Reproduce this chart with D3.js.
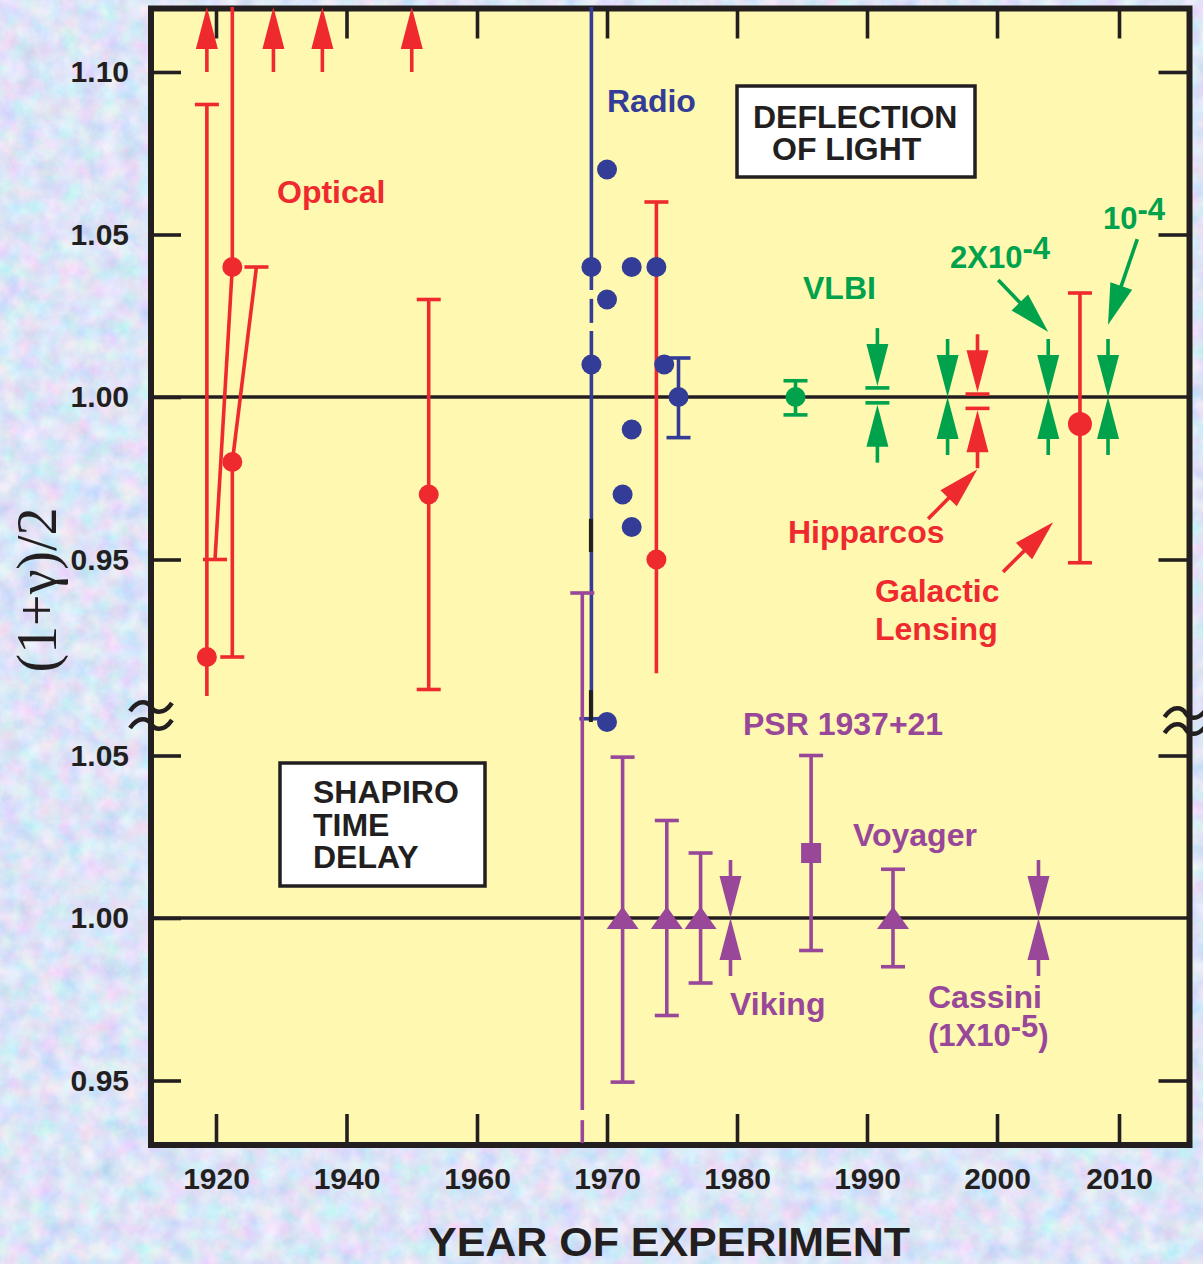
<!DOCTYPE html>
<html><head><meta charset="utf-8">
<script src="https://cdn.jsdelivr.net/npm/d3@7"></script>
<style>
html,body{margin:0;padding:0;background:#b8cbee;}
svg{display:block;}
</style></head><body>
<svg id="c" width="1203" height="1264"></svg>
<script>
// ================= DATA =================
const xTickYears = [1920, 1940, 1960, 1970, 1980, 1990, 2000, 2010];
const upperTicks = [0.95, 1.00, 1.05, 1.10];
const lowerTicks = [0.95, 1.00, 1.05];

// Deflection of light: optical (red)
const opticalDots = [
  {year: 1918.6, value: 0.92},
  {year: 1922.5, value: 1.04},
  {year: 1922.5, value: 0.98},
  {year: 1952.6, value: 0.97},
  {year: 1973.8, value: 0.95}
];
const opticalBars = [
  {year: 1918.6, lo: 0.908, hi: 1.09, capLo: false, capHi: true},
  {year: 1922.5, lo: 1.04, hi: 1.12, capLo: false, capHi: false},
  {year: 1922.5, lo: 0.92, hi: 0.98, capLo: true, capHi: false},
  {year: 1952.6, lo: 0.91, hi: 1.03, capLo: true, capHi: true},
  {year: 1973.8, lo: 0.915, hi: 1.06, capLo: false, capHi: true}
];
const opticalSlants = [
  {year: 1922.5, value: 1.04, year2: 1919.85, value2: 0.95},
  {year: 1922.5, value: 0.98, year2: 1926.2, value2: 1.04}
];
const opticalOffscale = [1918.6, 1928.8, 1936.3, 1950.0];   // values above 1.10
const offscaleFrom = 1.10, offscaleTo = 1.12;

// Deflection of light: radio (blue)
const radioDots = [
  {year: 1968.8, value: 1.04}, {year: 1968.8, value: 1.01},
  {year: 1970.0, value: 1.07}, {year: 1970.0, value: 1.03},
  {year: 1971.9, value: 1.04}, {year: 1973.8, value: 1.04},
  {year: 1974.4, value: 1.01}, {year: 1975.5, value: 1.00},
  {year: 1971.9, value: 0.99}, {year: 1971.2, value: 0.97},
  {year: 1971.9, value: 0.96}, {year: 1970.0, value: 0.90}
];
const radioBars = [
  {year: 1968.8, lo: 0.901, hi: 1.12, capLo: true, capHi: false,
   gaps: [[1.0329, 1.0302], [1.0228, 1.0203]]},
  {year: 1975.5, lo: 0.9875, hi: 1.012, capLo: true, capHi: true}
];
const radioBlackMarks = [{year: 1968.8, lo: 0.9523, hi: 0.9625}, {year: 1968.8, lo: 0.900, hi: 0.9098}];

// VLBI (green)
const vlbiPoints = [{year: 1984.5, value: 1.00, lo: 0.9945, hi: 1.005}];
const vlbiBrackets = [{year: 1990.8, lo: 0.9982, hi: 1.0028}];
const vlbiLimits = [
  {year: 1990.8, lo: 0.9982, hi: 1.0028},
  {year: 1996.2, lo: 1.00, hi: 1.00},
  {year: 2004.2, lo: 1.00, hi: 1.00},
  {year: 2009.1, lo: 1.00, hi: 1.00}
];
// Hipparcos (red)
const hipparcos = [{year: 1998.5, lo: 0.9965, hi: 1.0009}];
// Galactic lensing (red)
const lensing = [{year: 2006.8, value: 0.9917, lo: 0.949, hi: 1.032}];

// Shapiro time delay (purple, lower panel)
const shapiroBars = [
  {year: 1968.1, lo: 0.9308, hi: 1.10, capLo: false, capHi: true, gaps: [[0.9409, 0.9378]]},
  {year: 1971.2, lo: 0.9495, hi: 1.0495, capLo: true, capHi: true},
  {year: 1974.6, lo: 0.970, hi: 1.030, capLo: true, capHi: true},
  {year: 1977.2, lo: 0.980, hi: 1.020, capLo: true, capHi: true},
  {year: 1985.7, lo: 0.990, hi: 1.050, capLo: true, capHi: true},
  {year: 1992.0, lo: 0.985, hi: 1.015, capLo: true, capHi: true}
];
const shapiroTriangles = [
  {year: 1971.2, value: 1.00}, {year: 1974.6, value: 1.00},
  {year: 1977.2, value: 1.00}, {year: 1992.0, value: 1.00}
];
const shapiroSquares = [{year: 1985.7, value: 1.02}];
const shapiroLimits = [{year: 1979.5, lo: 1.00, hi: 1.00}, {year: 2003.4, lo: 1.00, hi: 1.00}];

// annotation pointers (upper panel, data coordinates)
const pointers = [
  {from: [2000.1, 1.036], to: [2004.2, 1.020], color: "green"},
  {from: [2011.5, 1.0486], to: [2009.1, 1.0222], color: "green"},
  {from: [1994.7, 0.9625], to: [1998.5, 0.9778], color: "red"},
  {from: [2000.5, 0.9462], to: [2004.6, 0.9615], color: "red"}
];

// ================= LAYOUT / STYLE =================
const W = 1203, H = 1264;
const C = {red: "#ee2a2f", blue: "#333c96", green: "#00a24c", purple: "#984799",
           ink: "#231f20", yellow: "#fff8b1"};
const FONT = '"Liberation Sans", Arial, Helvetica, sans-serif';
const frame = {left: 151, right: 1189.5, top: 8.5, bottom: 1145};
const SW = 3.6, CAP = 12, DOT = 10;

const x = d3.scaleLinear().domain([1920, 1960, 2000, 2010]).range([216, 477, 997, 1119]);
const yU = d3.scaleLinear().domain([0.95, 1.10]).range([559.5, 72]);
const yL = d3.scaleLinear().domain([0.95, 1.05]).range([1080.5, 755.5]);

const svg = d3.select("#c");
const defs = svg.append("defs");
const f = defs.append("filter").attr("id", "tex").attr("x", 0).attr("y", 0)
  .attr("width", W).attr("height", H).attr("filterUnits", "userSpaceOnUse");
f.append("feTurbulence").attr("type", "fractalNoise").attr("baseFrequency", "0.05")
  .attr("numOctaves", 4).attr("seed", 7);
f.append("feColorMatrix").attr("type", "matrix").attr("values",
  "0.6 0 0 0 0.42  0 0.4 0 0 0.58  0 0 0.22 0 0.82  0 0 0 0 1");

svg.append("rect").attr("width", W).attr("height", H).attr("fill", "#b8cbee");
svg.append("rect").attr("width", W).attr("height", H).attr("filter", "url(#tex)");

// plot area
svg.append("rect").attr("x", frame.left).attr("y", frame.top)
  .attr("width", frame.right - frame.left).attr("height", frame.bottom - frame.top)
  .attr("fill", C.yellow);

// reference lines at 1.00
[yU, yL].forEach(s => svg.append("line")
  .attr("x1", frame.left).attr("x2", frame.right).attr("y1", s(1)).attr("y2", s(1))
  .attr("stroke", C.ink).attr("stroke-width", SW));

function styleAxis(g, size) {
  g.select(".domain").remove();
  g.selectAll(".tick line").attr("stroke", C.ink).attr("stroke-width", SW);
  g.selectAll(".tick text").attr("fill", C.ink)
    .style("font-family", FONT).style("font-weight", "bold").style("font-size", size + "px");
}
const fmt2 = d3.format(".2f");
styleAxis(svg.append("g").attr("transform", `translate(${frame.left},0)`)
  .call(d3.axisLeft(yU).tickValues(upperTicks).tickSize(-30).tickPadding(22).tickFormat(fmt2)), 30);
styleAxis(svg.append("g").attr("transform", `translate(${frame.left},0)`)
  .call(d3.axisLeft(yL).tickValues(lowerTicks).tickSize(-30).tickPadding(22).tickFormat(fmt2)), 30);
styleAxis(svg.append("g").attr("transform", `translate(${frame.right},0)`)
  .call(d3.axisRight(yU).tickValues(upperTicks.filter(d => d !== 1)).tickSize(-31).tickFormat("")), 30);
styleAxis(svg.append("g").attr("transform", `translate(${frame.right},0)`)
  .call(d3.axisRight(yL).tickValues(lowerTicks.filter(d => d !== 1)).tickSize(-31).tickFormat("")), 30);
styleAxis(svg.append("g").attr("transform", `translate(0,${frame.top})`)
  .call(d3.axisTop(x).tickValues(xTickYears).tickSize(-30).tickFormat("")), 30);
styleAxis(svg.append("g").attr("transform", `translate(0,${frame.bottom})`)
  .call(d3.axisBottom(x).tickValues(xTickYears).tickSize(-31).tickPadding(23).tickFormat(d3.format("d"))), 30);

// frame
svg.append("rect").attr("x", frame.left).attr("y", frame.top)
  .attr("width", frame.right - frame.left).attr("height", frame.bottom - frame.top)
  .attr("fill", "none").attr("stroke", C.ink).attr("stroke-width", 6);

// ================= HELPERS =================
const marks = svg.append("g");
function seg(x1, y1, x2, y2, color, w) {
  marks.append("line").attr("x1", x1).attr("y1", y1).attr("x2", x2).attr("y2", y2)
    .attr("stroke", color).attr("stroke-width", w || SW);
}
function errBar(d, ys, color) {
  const px = x(d.year);
  const top = ys(d.hi), bot = ys(d.lo);
  const cuts = (d.gaps || []).map(([p, q]) => [Math.min(ys(p), ys(q)), Math.max(ys(p), ys(q))])
    .sort((a, b) => a[0] - b[0]);
  let cur = top;
  cuts.forEach(([c0, c1]) => { if (c0 > cur) seg(px, cur, px, c0, color); cur = Math.max(cur, c1); });
  if (bot > cur) seg(px, cur, px, bot, color);
  if (d.capHi) seg(px - CAP, top, px + CAP, top, color);
  if (d.capLo) seg(px - CAP, bot, px + CAP, bot, color);
}
function arrow(x1, y1, x2, y2, color, hl = 42, hw = 22, w = SW) {
  const dx = x2 - x1, dy = y2 - y1, L = Math.hypot(dx, dy);
  const ux = dx / L, uy = dy / L;
  const bx = x2 - ux * hl, by = y2 - uy * hl;
  seg(x1, y1, bx + ux * 2, by + uy * 2, color, w);
  const nx = -uy, ny = ux;
  marks.append("path")
    .attr("d", `M${x2},${y2}L${bx + nx * hw / 2},${by + ny * hw / 2}L${bx - nx * hw / 2},${by - ny * hw / 2}Z`)
    .attr("fill", color);
}
const ALEN = 58;
function limitPair(d, ys, color, bracket) {
  const px = x(d.year);
  const off = bracket ? SW / 2 : 0;
  const t = ys(d.hi) - off, b = ys(d.lo) + off;
  arrow(px, t - ALEN, px, t, color);
  arrow(px, b + ALEN, px, b, color);
}
function bracket(d, ys, color) {
  const px = x(d.year);
  seg(px - CAP, ys(d.hi), px + CAP, ys(d.hi), color);
  seg(px - CAP, ys(d.lo), px + CAP, ys(d.lo), color);
}
function dot(d, ys, color, r) {
  marks.append("circle").attr("cx", x(d.year)).attr("cy", ys(d.value)).attr("r", r || DOT).attr("fill", color);
}

// ================= MARKS =================
// optical
opticalBars.forEach(d => errBar(d, yU, C.red));
opticalSlants.forEach(d => {
  seg(x(d.year), yU(d.value), x(d.year2), yU(d.value2), C.red);
  seg(x(d.year2) - CAP, yU(d.value2), x(d.year2) + CAP, yU(d.value2), C.red);
});
opticalDots.forEach(d => dot(d, yU, C.red));
opticalOffscale.forEach(yr => arrow(x(yr), yU(offscaleFrom), x(yr), yU(offscaleTo), C.red));

// radio
radioBars.forEach(d => errBar(d, yU, C.blue));
radioBlackMarks.forEach(d => seg(x(d.year) - 0.5, yU(d.hi), x(d.year) - 0.5, yU(d.lo), C.ink, 4));
radioDots.forEach(d => dot(d, yU, C.blue));

// VLBI
vlbiPoints.forEach(d => { errBar({...d, capLo: true, capHi: true}, yU, C.green); dot(d, yU, C.green); });
vlbiBrackets.forEach(d => bracket(d, yU, C.green));
vlbiLimits.forEach(d => limitPair(d, yU, C.green, d.hi !== d.lo));

// Hipparcos
hipparcos.forEach(d => { bracket(d, yU, C.red); limitPair(d, yU, C.red, true); });

// Galactic lensing
lensing.forEach(d => { errBar({...d, capLo: true, capHi: true}, yU, C.red); dot(d, yU, C.red, 12); });

// pointers
pointers.forEach(p => arrow(x(p.from[0]), yU(p.from[1]), x(p.to[0]), yU(p.to[1]), C[p.color], 41, 23));

// Shapiro
shapiroBars.forEach(d => errBar(d, yL, C.purple));
shapiroTriangles.forEach(d => {
  const px = x(d.year), py = yL(d.value);
  marks.append("path").attr("d", `M${px},${py - 11.5}L${px - 16},${py + 11}L${px + 16},${py + 11}Z`).attr("fill", C.purple);
});
shapiroSquares.forEach(d => {
  marks.append("rect").attr("x", x(d.year) - 10).attr("y", yL(d.value) - 10)
    .attr("width", 20).attr("height", 20).attr("fill", C.purple);
});
shapiroLimits.forEach(d => limitPair(d, yL, C.purple, false));

// ================= TEXT =================
const T = svg.append("g").style("font-family", FONT).style("font-weight", "bold");
function label(txt, px, py, color, size, anchor) {
  return T.append("text").attr("x", px).attr("y", py).attr("fill", color)
    .attr("font-size", size).attr("text-anchor", anchor || "start").text(txt);
}
label("Optical", 277, 203, C.red, 32);
label("Radio", 607, 112, C.blue, 32);
label("VLBI", 803, 299, C.green, 32);
label("Hipparcos", 788, 543, C.red, 32);
label("Galactic", 875, 602, C.red, 32);
label("Lensing", 875, 640, C.red, 32);
label("PSR 1937+21", 743, 735, C.purple, 32);
label("Viking", 730, 1015, C.purple, 32);
label("Voyager", 853, 846, C.purple, 32);
label("Cassini", 928, 1008, C.purple, 32);

function supLabel(base, sup, tail, px, py, color, size) {
  const t = label("", px, py, color, size);
  t.append("tspan").text(base);
  t.append("tspan").attr("dy", -9).text(sup);
  if (tail) t.append("tspan").attr("dy", 9).text(tail);
}
supLabel("2X10", "-4", "", 950, 268, C.green, 31);
supLabel("10", "-4", "", 1103, 229, C.green, 31);
supLabel("(1X10", "-5", ")", 928, 1046, C.purple, 31);

// boxes
function box(x0, y0, x1, y1, lines) {
  svg.append("rect").attr("x", x0).attr("y", y0).attr("width", x1 - x0).attr("height", y1 - y0)
    .attr("fill", "#ffffff").attr("stroke", C.ink).attr("stroke-width", 3.5);
  lines.forEach(l => label(l[0], l[1], l[2], C.ink, 32).raise());
}
box(737, 86, 975, 177, [["DEFLECTION", 753, 128], ["OF LIGHT", 772, 160]]);
box(280, 763, 485, 886, [["SHAPIRO", 313, 803], ["TIME", 313, 836], ["DELAY", 313, 868]]);
T.raise();

// axis titles
label("YEAR OF EXPERIMENT", 669, 1256, C.ink, 41, "middle")
  .attr("textLength", 482).attr("lengthAdjust", "spacingAndGlyphs");
svg.append("text").attr("transform", "translate(56,590) rotate(-90)")
  .attr("text-anchor", "middle").attr("fill", C.ink)
  .attr("textLength", 165).attr("lengthAdjust", "spacingAndGlyphs")
  .style("font-family", '"Liberation Serif", "Times New Roman", serif')
  .style("font-size", "58px").text("(1+\u03b3)/2");

// axis break squiggles
function squiggles(cx, ys) {
  ys.forEach(yy => svg.append("path")
    .attr("d", `M${cx - 21},${yy + 4}C${cx - 12},${yy - 9} ${cx - 3},${yy - 5} ${cx},${yy}C${cx + 3},${yy + 5} ${cx + 12},${yy + 9} ${cx + 21},${yy - 4}`)
    .attr("fill", "none").attr("stroke", C.ink).attr("stroke-width", 4.5));
}
squiggles(frame.left, [707, 724]);
squiggles(frame.right - 4, [713, 729]);
</script>
</body></html>
